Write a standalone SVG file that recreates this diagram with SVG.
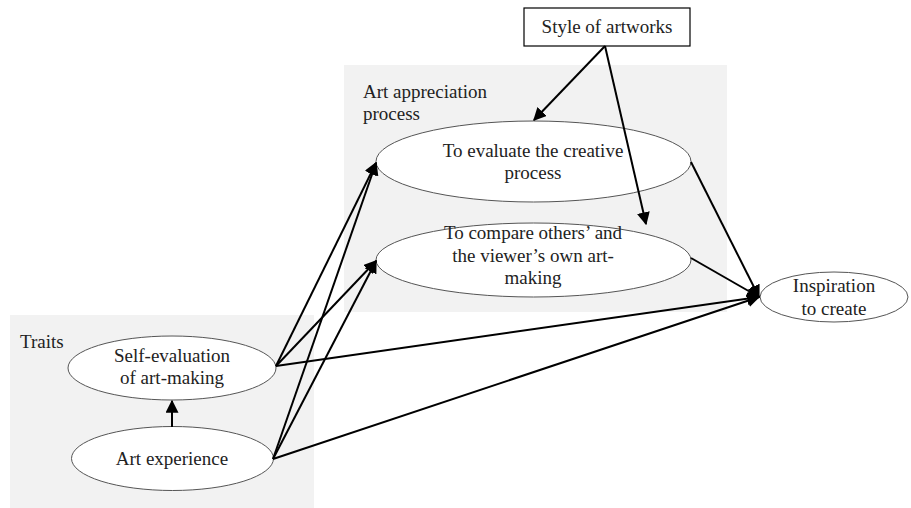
<svg xmlns="http://www.w3.org/2000/svg" width="911" height="508" viewBox="0 0 911 508">
<style>
.bg{fill:#f2f2f2;stroke:none}
.node{fill:#fff;stroke:#555;stroke-width:1}
.box{fill:#fff;stroke:#000;stroke-width:1.2}
text{font-family:"Liberation Serif","Times New Roman",serif;font-size:19px;fill:#222}
.c{text-anchor:middle}
.edge{stroke:#000;stroke-width:2;fill:none;marker-end:url(#ah)}
</style>
<defs>
<marker id="ah" viewBox="0 0 10 10" refX="9" refY="5" markerWidth="6.5" markerHeight="6.5" markerUnits="strokeWidth" orient="auto">
<path d="M0,0 L10,5 L0,10 z" fill="#000"/>
</marker>
</defs>
<rect class="bg" x="344" y="65" width="383" height="247"/>
<rect class="bg" x="10" y="315" width="304" height="193"/>
<text x="363" y="98">Art appreciation</text>
<text x="363" y="120">process</text>
<text x="20" y="348">Traits</text>
<g id="style">
<rect class="box" x="524" y="8" width="166" height="38"/>
<text class="c" x="607" y="33">Style of artworks</text>
</g>
<g id="evaluate">
<ellipse class="node" cx="533.5" cy="161.5" rx="157.5" ry="40.5"/>
<text class="c" x="533" y="157">To evaluate  the  creative</text>
<text class="c" x="533" y="179">process</text>
</g>
<g id="compare">
<ellipse class="node" cx="533.5" cy="260" rx="157.5" ry="37"/>
<text class="c" x="533" y="239">To compare others’ and</text>
<text class="c" x="533" y="262">the viewer’s  own  art-</text>
<text class="c" x="533" y="284">making</text>
</g>
<g id="inspiration">
<ellipse class="node" cx="834" cy="297" rx="74" ry="25"/>
<text class="c" x="834" y="292">Inspiration</text>
<text class="c" x="834" y="315">to create</text>
</g>
<g id="selfeval">
<ellipse class="node" cx="172" cy="368" rx="104" ry="32"/>
<text class="c" x="172" y="362">Self-evaluation</text>
<text class="c" x="172" y="384">of art-making</text>
</g>
<g id="artexp">
<ellipse class="node" cx="172.5" cy="458.5" rx="101" ry="32"/>
<text class="c" x="172" y="465">Art experience</text>
</g>
<g id="connectors">
<line class="edge" x1="172" y1="427" x2="172" y2="401"/>
<line class="edge" x1="605" y1="46" x2="534" y2="120"/>
<line class="edge" x1="605" y1="46" x2="646" y2="224"/>
<line class="edge" x1="276" y1="366" x2="376" y2="163"/>
<line class="edge" x1="276" y1="366" x2="376" y2="261"/>
<line class="edge" x1="276" y1="366" x2="759" y2="297"/>
<line class="edge" x1="273" y1="459" x2="376" y2="163"/>
<line class="edge" x1="273" y1="459" x2="376" y2="261"/>
<line class="edge" x1="273" y1="459" x2="759" y2="297"/>
<line class="edge" x1="691" y1="162" x2="759" y2="297"/>
<line class="edge" x1="691" y1="258" x2="759" y2="297"/>
</g>
</svg>
